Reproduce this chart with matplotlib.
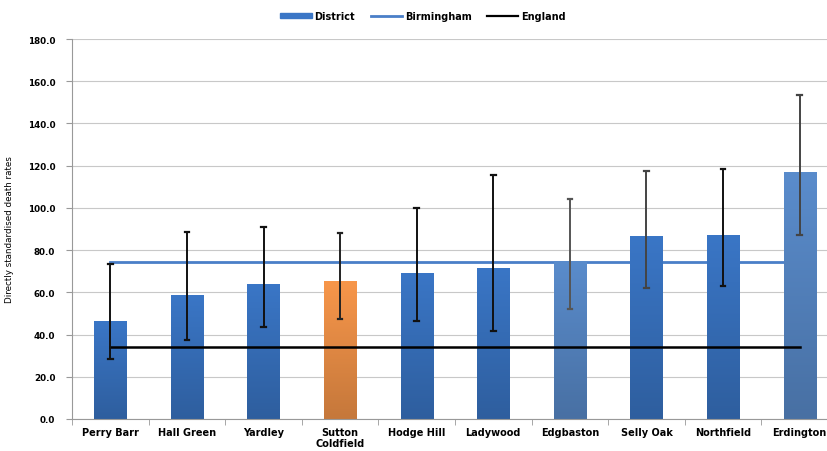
import matplotlib
matplotlib.use("Agg")
import matplotlib.pyplot as plt
import numpy as np
from matplotlib.colors import LinearSegmentedColormap
from matplotlib.lines import Line2D
from matplotlib.patches import Patch

districts = ["Perry Barr", "Hall Green", "Yardley", "Sutton\nColdfield", "Hodge Hill",
             "Ladywood", "Edgbaston", "Selly Oak", "Northfield", "Erdington"]
rates = [46.5, 58.7, 63.8, 65.2, 69.2, 71.6, 75.0, 86.6, 87.2, 116.8]
lower_ci = [28.3, 37.4, 43.6, 47.2, 46.4, 41.6, 52.0, 62.0, 63.0, 87.2]
upper_ci = [73.4, 88.5, 90.8, 88.0, 100.0, 115.4, 104.2, 117.5, 118.2, 153.4]
birmingham = 74.2
england = 34.2
bar_colors = ["#3a76c6", "#3a76c6", "#3a76c6", "#f7964a", "#3a76c6",
              "#3a76c6", "#5a8ccc", "#3a76c6", "#3a76c6", "#5a8ccc"]
err_colors = ["#111111", "#111111", "#111111", "#222222", "#111111",
              "#111111", "#555555", "#444444", "#111111", "#444444"]

fig = plt.figure(figsize=(8.28, 4.52), dpi=100)
ax = fig.add_axes([72/828, 32/452, 766/828, 380/452])

x = np.arange(len(districts))
width = 0.42
bars = ax.bar(x, rates, width=width, color=bar_colors, zorder=2)

# gradient fill on bars
for b, c in zip(bars, bar_colors):
    rgb = np.array(matplotlib.colors.to_rgb(c))
    dark = rgb * 0.8
    cmap = LinearSegmentedColormap.from_list("g", [dark, rgb])
    x0, y0 = b.get_x(), b.get_y()
    w, h = b.get_width(), b.get_height()
    grad = np.linspace(0, 1, 100).reshape(-1, 1)
    im = ax.imshow(grad, extent=[x0, x0 + w, y0, y0 + h], origin="lower",
                   cmap=cmap, aspect="auto", zorder=2.1)
    im.set_clip_path(b)

for i in range(len(x)):
    ax.plot([x[i], x[i]], [lower_ci[i], upper_ci[i]], color=err_colors[i], lw=1.4, zorder=4)
    for yy in (lower_ci[i], upper_ci[i]):
        ax.plot([x[i] - 0.03, x[i] + 0.03], [yy, yy], color=err_colors[i], lw=1.6, zorder=4)

ax.plot(x, [birmingham] * len(x), color="#4a7fc8", lw=2, zorder=1.9)
ax.plot(x, [england] * len(x), color="#000000", lw=1.8, zorder=3)

ax.set_xlim(-0.5, len(x) - 0.5)
ax.set_ylim(0, 180)
ax.set_yticks(np.arange(0, 181, 20))
ax.set_yticklabels([f"{v:.1f}" for v in np.arange(0, 181, 20)], fontsize=6.3, fontweight="bold")
ax.set_xticks(x)
ax.set_xticklabels(districts, fontsize=7, fontweight="bold", linespacing=1.1)
ax.set_xticks(np.arange(-0.5, len(x), 1), minor=True)
ax.tick_params(axis="x", which="major", length=0, pad=6)
ax.tick_params(axis="x", which="minor", length=4, color="#999999")
ax.tick_params(axis="y", length=4, color="#999999", pad=8)
ax.grid(axis="y", color="#c8c8c8", lw=0.8, zorder=0)
ax.set_axisbelow(True)
for s in ["top", "right"]:
    ax.spines[s].set_visible(False)
for s in ["left", "bottom"]:
    ax.spines[s].set_color("#999999")
ax.set_ylabel("Directly standardised death rates", fontsize=6.3, labelpad=10)

handles = [Patch(color="#3a76c6", label="District"),
           Line2D([0], [0], color="#4a7fc8", lw=2, label="Birmingham"),
           Line2D([0], [0], color="#000000", lw=1.6, label="England")]
leg = fig.legend(handles=handles, loc="center", bbox_to_anchor=(423/828, 1 - 17/452),
                 ncol=3, frameon=False, handlelength=3.2, handleheight=0.5,
                 columnspacing=1.6, handletextpad=0.3,
                 prop={"size": 7, "weight": "bold"})

fig.savefig("out.png", dpi=100)
